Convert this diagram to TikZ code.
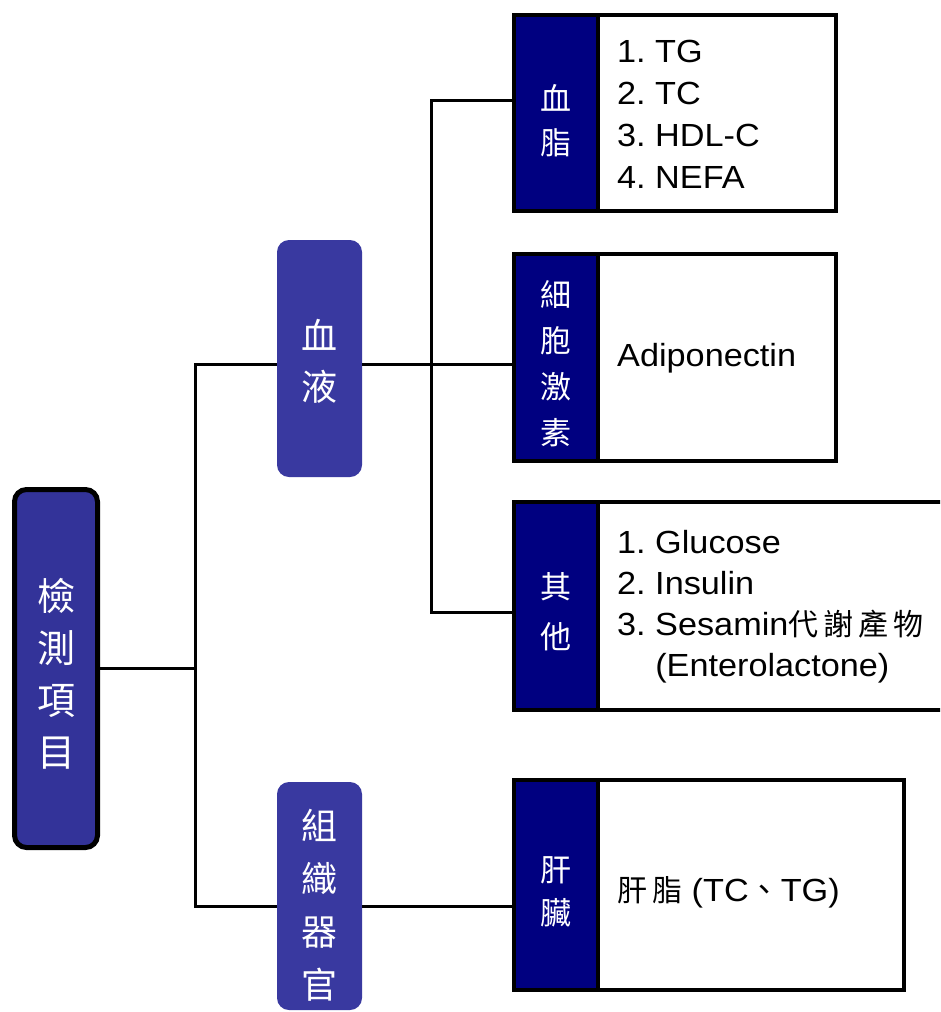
\documentclass[tikz,border=0pt]{standalone}
\usepackage{fontspec}
\setmainfont[FakeStretch=1.07]{Liberation Sans}
\newfontfamily\cjk{Noto Sans CJK TC}
\definecolor{rootblue}{HTML}{333399}
\definecolor{midblue}{HTML}{3939A0}
\definecolor{navyb}{HTML}{000080}
\tikzset{
 conn/.style={line width=3pt, draw=black},
 rootbox/.style={draw=black, line width=5pt, fill=rootblue, rounded corners=12pt, minimum width=83pt, minimum height=358pt, inner sep=0pt},
 midbox/.style={fill=midblue, rounded corners=12pt, minimum width=85pt, inner sep=0pt},
 outerbox/.style={draw=black, line width=4pt, fill=white, inner sep=0pt},
 lblbox/.style={draw=black, line width=4pt, fill=navyb, inner sep=0pt, minimum width=84pt, anchor=west},
 vtext/.style={text=white, align=center, inner sep=0pt},
 content/.style={anchor=west, align=left, font=\fontsize{32}{42}\selectfont, inner sep=0pt},
}
\begin{document}
\frenchspacing
\begin{tikzpicture}[x=1pt,y=-1pt]
\useasboundingbox (0,0) rectangle (940,1012);
\clip (0,0) rectangle (940,1012);
% main nodes
\node[rootbox, label={[vtext, font=\cjk\fontsize{38}{52}\selectfont, yshift=-5pt]center:檢\\測\\項\\目}] (root) at (56,668.5) {};
\node[midbox, minimum height=237pt, label={[vtext, font=\cjk\fontsize{36}{51}\selectfont, yshift=-3pt]center:血\\液}] (blood) at (319.5,358.5) {};
\node[midbox, minimum height=228pt, label={[vtext, font=\cjk\fontsize{36}{53}\selectfont, yshift=-9pt]center:組\\織\\器\\官}] (tissue) at (319.5,896) {};
% right boxes
\node[outerbox, minimum width=322pt, minimum height=196pt] (lipid) at (675,113) {};
\node[lblbox, minimum height=196pt, label={[vtext, font=\cjk\fontsize{31}{44}\selectfont, yshift=-8pt]center:血\\脂}] (lipidlbl) at (lipid.west) {};
\node[content] (lipidtxt) at (617,114) {1. TG\\2. TC\\3. HDL-C\\4. NEFA};
\node[outerbox, minimum width=322pt, minimum height=207pt] (cyto) at (675,357.5) {};
\node[lblbox, minimum height=207pt, label={[vtext, font=\cjk\fontsize{31}{46}\selectfont, yshift=-6pt]center:細\\胞\\激\\素}] (cytolbl) at (cyto.west) {};
\node[content] (cytotxt) at (617,358) {Adiponectin};
\node[outerbox, minimum width=444pt, minimum height=208pt] (other) at (736,606) {};
\node[lblbox, minimum height=208pt, label={[vtext, font=\cjk\fontsize{31}{50}\selectfont, yshift=-6pt]center:其\\他}] (otherlbl) at (other.west) {};
\node[content, font=\fontsize{32}{41}\selectfont] (othertxt) at (617,607) {1. Glucose\\2. Insulin\\3. Sesamin{\cjk\fontsize{30}{41}\selectfont 代\,謝\,產\,物}\\\hphantom{3. }(Enterolactone)};
\node[outerbox, minimum width=390pt, minimum height=210pt] (liver) at (709,885) {};
\node[lblbox, minimum height=210pt, label={[vtext, font=\cjk\fontsize{31}{43}\selectfont, yshift=-7pt]center:肝\\臟}] (liverlbl) at (liver.west) {};
\node[content] (livertxt) at (617,892) {{\cjk\fontsize{30}{40}\selectfont 肝\,脂} (TC{\cjk 、}TG)};
% connectors
\coordinate (j1) at (195,668.5);
\coordinate (b1) at (195,364);
\coordinate (t1) at (195,906);
\coordinate (k0) at (431,364);
\coordinate (k1) at (431,100);
\coordinate (k3) at (431,612);
\draw[conn] (root.east) -- (j1);
\draw[conn] (b1 -| blood.west) -- (b1) -- (t1) -- (t1 -| tissue.west);
\draw[conn] (b1 -| blood.east) -- (k0);
\draw[conn] (k1 -| lipid.west) -- (k1) -- (k3) -- (k3 -| other.west);
\draw[conn] (k0) -- (k0 -| cyto.west);
\draw[conn] (t1 -| tissue.east) -- (t1 -| liver.west);
\end{tikzpicture}
\end{document}
